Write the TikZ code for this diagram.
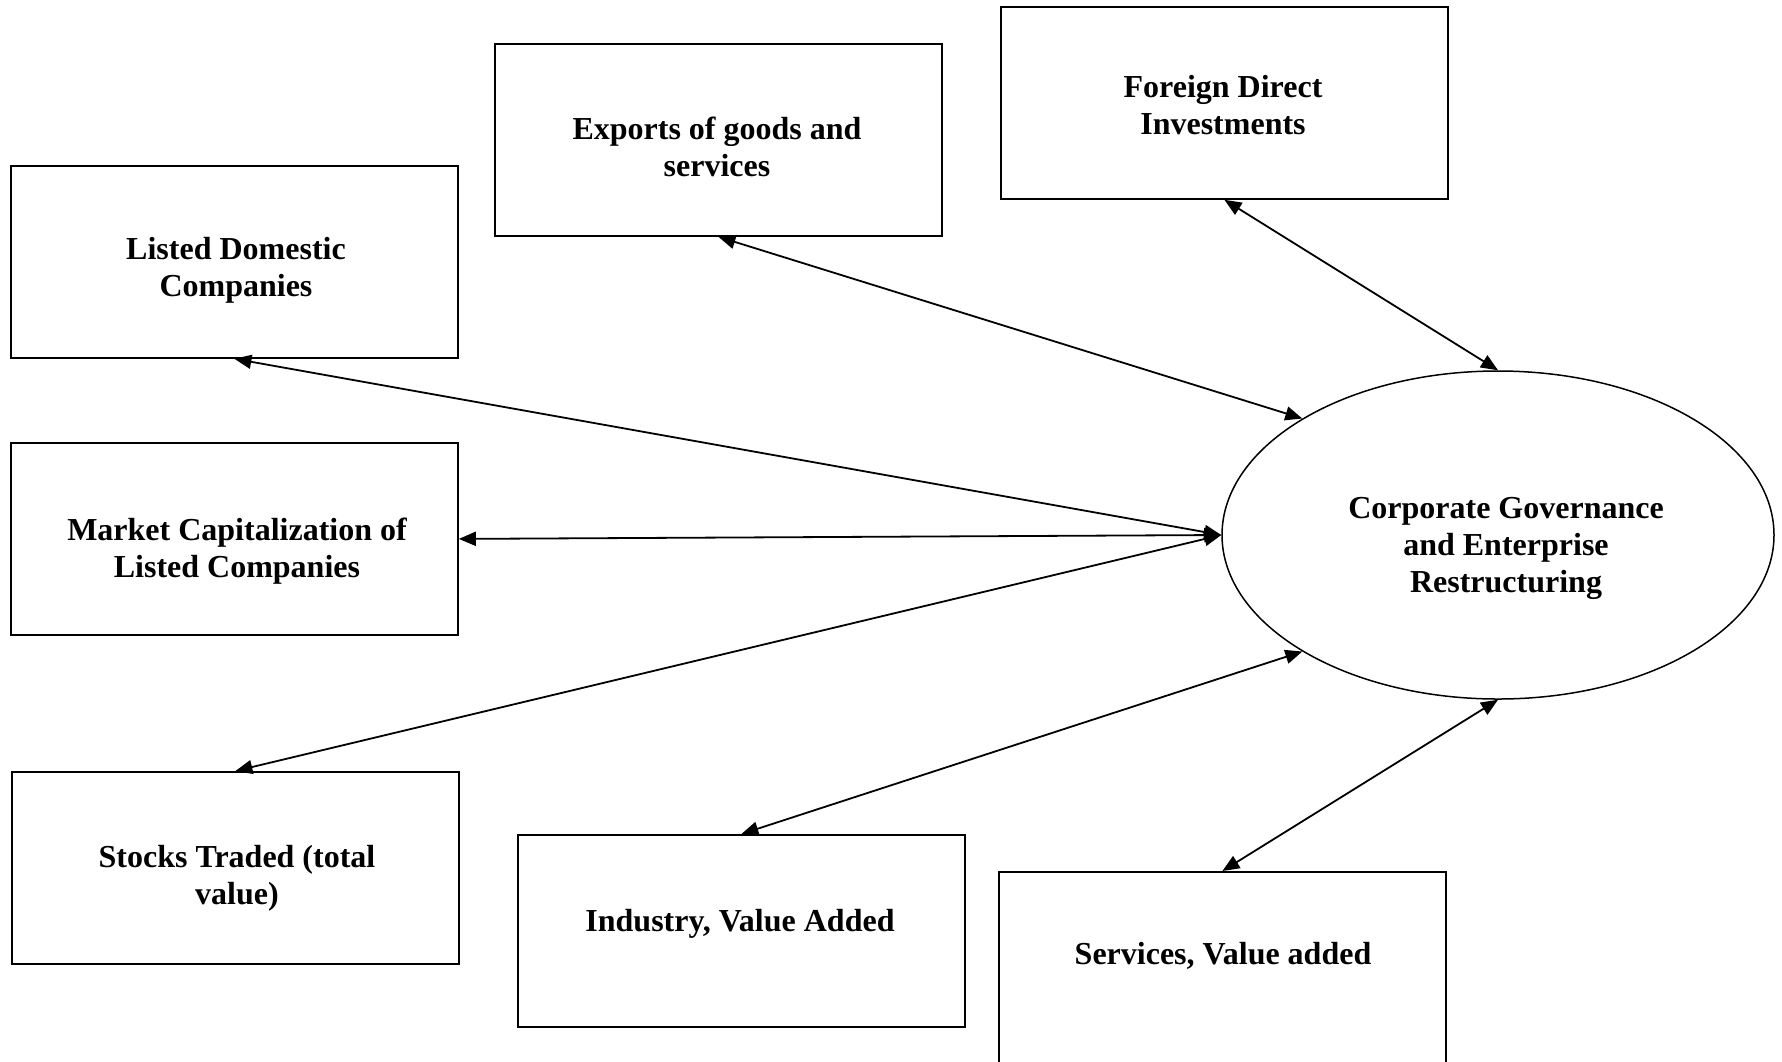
\documentclass[tikz,border=0pt]{standalone}
\usepackage{fontspec}
\setmainfont{Liberation Serif}
\usetikzlibrary{shapes.geometric,arrows.meta}
\begin{document}
\begin{tikzpicture}[x=1pt,y=-1pt,
  box/.style={draw,line width=1.8pt,minimum width=447pt,minimum height=192pt,inner sep=0pt,anchor=north west},
  lab/.style={font=\bfseries\fontsize{32}{37}\selectfont,align=center,anchor=base,inner sep=0pt},
  link/.style={line width=1.8pt,{Triangle[length=17pt,width=14pt]}-{Triangle[length=17pt,width=14pt]}}]
\useasboundingbox (0,0) rectangle (1782,1061);
\clip (0,0) rectangle (1782,1061);
\fill[white] (0,0) rectangle (1782,1061);

\node[box] (ld) at (10,165) {};
\node[box] (mc) at (10,442) {};
\node[box] (st) at (11,771) {};
\node[box] (ex) at (494,43) {};
\node[box] (fdi) at (1000,6) {};
\node[box] (ind) at (517,834) {};
\node[box] (sv) at (998,871) {};
\node[draw,ellipse,line width=1.5pt,minimum width=552pt,minimum height=328pt,inner sep=0pt] (cg) at (1498,535) {};

% anchor=base of a multi-line node is the baseline of its last line
\node[lab] (ldt) at (236,296) {Listed Domestic\\Companies};
\node[lab] (mct) at (237,577) {Market Capitalization of\\Listed Companies};
\node[lab] (ext) at (717,176) {Exports of goods and\\services};
\node[lab] (fdit) at (1223,134) {Foreign Direct\\Investments};
\node[lab] (stt) at (237,904) {Stocks Traded (total\\value)};
\node[lab] (indt) at (740,931) {Industry, Value Added};
\node[lab] (svt) at (1223,964) {Services, Value added};
\node[lab] (cgt) at (1506,592) {Corporate Governance\\and Enterprise\\Restructuring};

\draw[link] (ld.south) -- (cg.west);
\draw[link] (mc.east) -- (cg.west);
\draw[link] (st.north) -- (cg.west);
\draw[link] (ex.south) -- (cg.north west);
\draw[link] (fdi.south) -- (cg.north);
\draw[link] (ind.north) -- (cg.south west);
\draw[link] (sv.north) -- (cg.south);
\end{tikzpicture}
\end{document}
